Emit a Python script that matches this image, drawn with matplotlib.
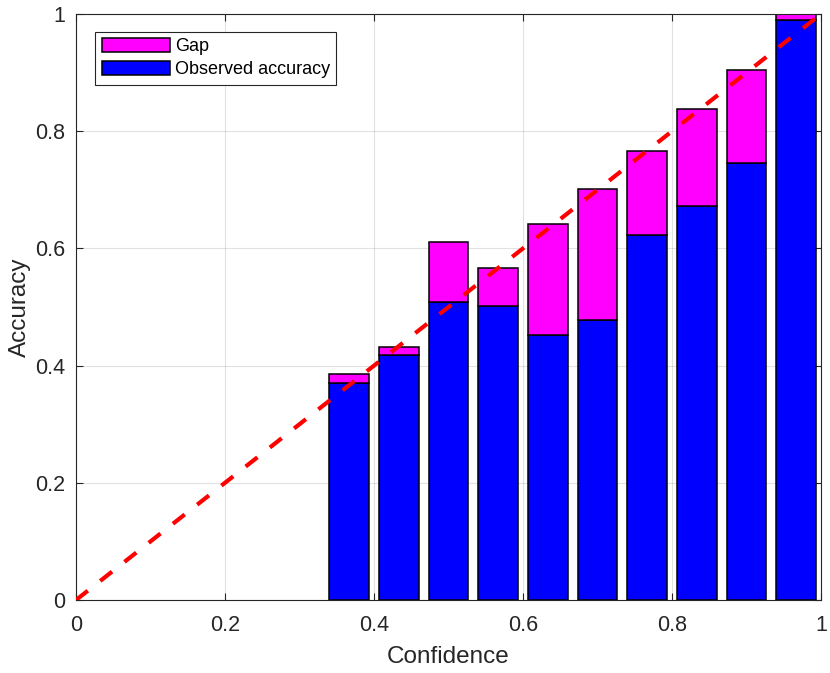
import numpy as np
import matplotlib
matplotlib.use("Agg")
import matplotlib.pyplot as plt

plt.rcParams["font.family"] = ["Liberation Sans", "DejaVu Sans"]

# reliability diagram, 15 equal bins; only the non-empty bins carry bars
N_BINS = 15
bin_idx = [5, 6, 7, 8, 9, 10, 11, 12, 13, 14]
accuracy = [0.371, 0.418, 0.509, 0.501, 0.453, 0.478, 0.623, 0.672, 0.746, 0.989]
bar_top = [0.385, 0.431, 0.611, 0.567, 0.642, 0.701, 0.767, 0.838, 0.904, 1.000]
gap = [t - a for t, a in zip(bar_top, accuracy)]

TXT = "#262626"
step = 1.0 / N_BINS
centers = [(i + 0.5) * step for i in bin_idx]

fig = plt.figure(figsize=(8.30, 6.73), dpi=100)
ax = fig.add_axes([76 / 830, 73 / 673, 745 / 830, 586 / 673])

ax.bar(centers, accuracy, width=0.8 * step, color="#0000ff", edgecolor="black",
       linewidth=1.1, label="Observed accuracy", zorder=2)
ax.bar(centers, gap, bottom=accuracy, width=0.8 * step, color="#ff00ff",
       edgecolor="black", linewidth=1.1, label="Gap", zorder=2)
ax.plot([0, 1], [0, 1], color="#ff0000", lw=3, ls=(0, (3.6, 3.8)), zorder=3)

ax.set_xlim(0, 1)
ax.set_ylim(0, 1)
ticks = [0, 0.2, 0.4, 0.6, 0.8, 1]
labels = ["0", "0.2", "0.4", "0.6", "0.8", "1"]
ax.set_xticks(ticks, labels)
ax.set_yticks(ticks, labels)
ax.tick_params(direction="in", length=5, width=0.8, colors=TXT, labelsize=15.5,
               top=True, right=True)
ax.tick_params(axis="x", pad=11)
ax.tick_params(axis="y", pad=8)
ax.grid(True, color="#262626", alpha=0.13, lw=0.8, zorder=0)
ax.set_axisbelow(True)
for s in ax.spines.values():
    s.set_color(TXT)
    s.set_linewidth(0.8)

ax.set_xlabel("Confidence", fontsize=17.5, color=TXT, labelpad=7)
ax.set_ylabel("Accuracy", fontsize=17.5, color=TXT, labelpad=3)

h, l = ax.get_legend_handles_labels()
leg = ax.legend(h[::-1], l[::-1], loc="upper left", bbox_to_anchor=(0.026, 0.97),
                fontsize=13, frameon=True, fancybox=False, edgecolor=TXT,
                framealpha=1, handlelength=3.8, handleheight=0.85,
                handletextpad=0.25, labelspacing=0.3, borderpad=0.35,
                borderaxespad=0)
leg.get_frame().set_linewidth(0.8)

fig.savefig("out.png", dpi=100)
